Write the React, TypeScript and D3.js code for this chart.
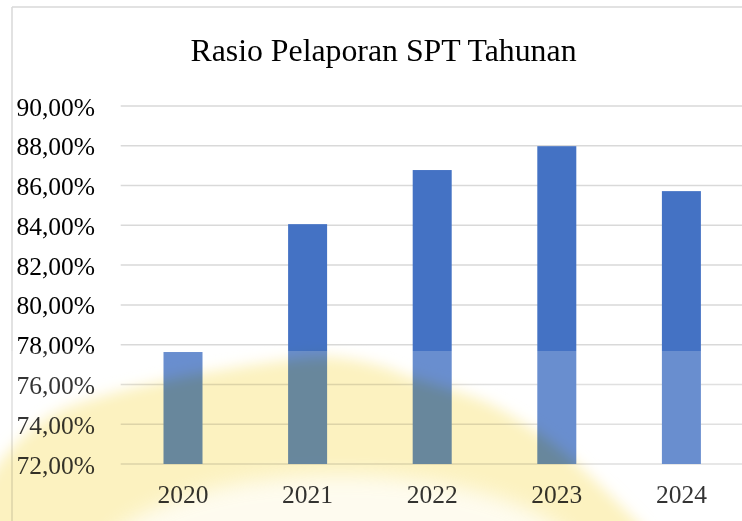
import * as d3 from "d3";

const years = ["2020", "2021", "2022", "2023", "2024"];
const ratios = [77.63, 84.06, 86.78, 87.98, 85.72];
const yTicks = [72, 74, 76, 78, 80, 82, 84, 86, 88, 90];
const chartTitle = "Rasio Pelaporan SPT Tahunan";

// outline of the yellow scan watermark (decoration, not data)
const stampEdge: [number, number][] = [
  [-30, 520], [0, 462], [50, 416], [100, 397], [164, 381], [203, 373],
  [289, 360], [330, 357], [380, 366], [413, 378], [452, 390], [490, 404],
  [538, 433], [577, 464], [610, 495], [645, 530],
];

const width = 742;
const height = 521;
const plotLeft = 120.7;
const plotRight = 743.7;
const plotTop = 106;
const plotBottom = 464;

const fmt = (v: number) => v.toFixed(2).replace(".", ",") + "%";

export default function App() {
  const x = d3
    .scaleBand()
    .domain(years)
    .range([plotLeft, plotRight])
    .paddingInner(0.687)
    .paddingOuter(0.3435);

  const y = d3.scaleLinear().domain([72, 90]).range([plotBottom, plotTop]);

  const font = "'Liberation Serif', 'Times New Roman', serif";

  const edge = d3.line().curve(d3.curveCatmullRom)(stampEdge) as string;
  const stampPath = edge + "L645,560L-30,560Z";

  return (
    <svg
      width={width}
      height={height}
      style={{ position: "absolute", left: 0, top: 0, background: "#fff" }}
    >
      <defs>
        <filter id="blur" x="-20%" y="-20%" width="140%" height="140%">
          <feGaussianBlur stdDeviation="7" />
        </filter>
        <filter id="blur2" x="-20%" y="-20%" width="140%" height="140%">
          <feGaussianBlur stdDeviation="10" />
        </filter>
      </defs>

      {/* chart border */}
      <line x1={12} x2={width} y1={7} y2={7} stroke="#d9d9d9" strokeWidth={1.5} />
      <line x1={12} x2={12} y1={7} y2={height} stroke="#d9d9d9" strokeWidth={1.5} />

      <text
        x={383.5}
        y={61}
        textAnchor="middle"
        fontFamily={font}
        fontSize={31.8}
        fill="#000"
      >
        {chartTitle}
      </text>

      {/* gridlines */}
      {yTicks.map((t) => (
        <line
          key={t}
          x1={plotLeft}
          x2={width}
          y1={y(t)}
          y2={y(t)}
          stroke="#d9d9d9"
          strokeWidth={1.5}
        />
      ))}

      {yTicks.map((t) => (
        <text
          key={t}
          x={95}
          y={y(t) + 9.5}
          textAnchor="end"
          fontFamily={font}
          fontSize={25.5}
          fill="#000"
        >
          {fmt(t)}
        </text>
      ))}

      {/* bars */}
      {years.map((yr, i) => (
        <rect
          key={yr}
          x={x(yr)}
          y={y(ratios[i])}
          width={x.bandwidth()}
          height={plotBottom - y(ratios[i])}
          fill="#4472c4"
        />
      ))}

      {years.map((yr) => (
        <text
          key={yr}
          x={(x(yr) as number) + x.bandwidth() / 2}
          y={503}
          textAnchor="middle"
          fontFamily={font}
          fontSize={25.5}
          fill="#000"
        >
          {yr}
        </text>
      ))}

      {/* scanned watermark */}
      <rect x={0} y={351} width={width} height={height - 351} fill="#fff" opacity={0.2} />
      <g style={{ mixBlendMode: "multiply", isolation: "isolate" }}>
        <path d={stampPath} fill="#fcf2c0" filter="url(#blur)" />
        <ellipse
          cx={340}
          cy={575}
          rx={250}
          ry={100}
          fill="#fff"
          opacity={0.75}
          filter="url(#blur2)"
        />
      </g>
    </svg>
  );
}
